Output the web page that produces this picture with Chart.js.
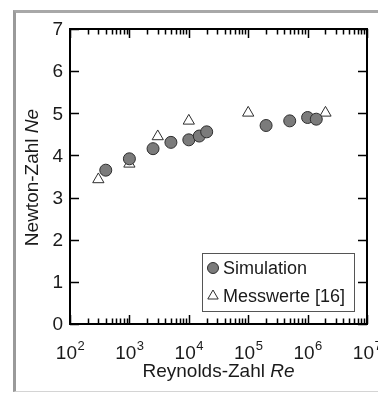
<!DOCTYPE html>
<html>
<head>
<meta charset="utf-8">
<script src="https://cdn.jsdelivr.net/npm/chart.js@4.4.0/dist/chart.umd.min.js"></script>
<style>
body { margin: 0; background: #fff; }
#wrap {
    position: absolute; left: 13px; top: 10px;
    width: 362px; height: 378px;
    border-left: 3px solid #9a9a9a;
    border-top: 3px solid #a8a8a8;
    border-bottom: 1px solid #d4d4d4;
}
canvas { display: block; }
</style>
</head>
<body>
<div id="wrap"><canvas id="chart" width="362" height="378"></canvas></div>
<script>
// Simulation
const simRe = [400, 1000, 2500, 5000, 10000, 15000, 20000, 200000, 500000, 1000000, 1400000];
const simNe = [3.65, 3.92, 4.16, 4.31, 4.37, 4.46, 4.56, 4.71, 4.82, 4.90, 4.86];
// Messwerte [16]
const measRe = [300, 1000, 3000, 10000, 100000, 2000000];
const measNe = [3.43, 3.80, 4.45, 4.82, 5.01, 5.01];

const xTicks = [1e2, 1e3, 1e4, 1e5, 1e6, 1e7];
const yTicks = [0, 1, 2, 3, 4, 5, 6, 7];
const seriesNames = ['Simulation', 'Messwerte [16]'];

const FONT = '"Liberation Sans", Arial, sans-serif';
const INK = '#1a1a1a';

const toPoints = (xs, ys) => xs.map((x, i) => ({ x: x, y: ys[i] }));

// axes box, inward ticks, labels, titles, legend
const frame = {
    id: 'frame',
    afterDatasetsDraw(chart) {
        const ctx = chart.ctx;
        const a = chart.chartArea;
        const xs = chart.scales.x;
        const ys = chart.scales.y;
        ctx.save();
        ctx.strokeStyle = '#000';
        ctx.lineWidth = 1.5;

        // minor + major ticks on x (bottom and top)
        ctx.beginPath();
        for (let d = 0; d < xTicks.length; d++) {
            const base = xTicks[d];
            const px = Math.round(xs.getPixelForValue(base)) + 0.5;
            ctx.moveTo(px, a.bottom); ctx.lineTo(px, a.bottom - 9);
            ctx.moveTo(px, a.top); ctx.lineTo(px, a.top + 9);
            if (d === xTicks.length - 1) break;
            for (let k = 2; k <= 9; k++) {
                const mx = Math.round(xs.getPixelForValue(base * k)) + 0.5;
                ctx.moveTo(mx, a.bottom); ctx.lineTo(mx, a.bottom - 5.5);
                ctx.moveTo(mx, a.top); ctx.lineTo(mx, a.top + 5.5);
            }
        }
        // y ticks left and right
        yTicks.forEach((v) => {
            const py = Math.round(ys.getPixelForValue(v)) + 0.5;
            ctx.moveTo(a.left, py); ctx.lineTo(a.left + 9, py);
            ctx.moveTo(a.right, py); ctx.lineTo(a.right - 9, py);
        });
        ctx.stroke();

        ctx.lineWidth = 2;
        ctx.strokeRect(a.left, a.top, a.right - a.left, a.bottom - a.top);

        // tick labels
        ctx.fillStyle = INK;
        ctx.font = '19px ' + FONT;
        ctx.textAlign = 'right';
        ctx.textBaseline = 'middle';
        yTicks.forEach((v) => {
            ctx.fillText(String(v), a.left - 7, ys.getPixelForValue(v) + 1);
        });

        ctx.textBaseline = 'alphabetic';
        xTicks.forEach((v) => {
            const exp = String(Math.round(Math.log10(v)));
            ctx.font = '19px ' + FONT;
            const w1 = ctx.measureText('10').width;
            ctx.font = '13px ' + FONT;
            const w2 = ctx.measureText(exp).width;
            const left = xs.getPixelForValue(v) - (w1 + w2) / 2;
            ctx.textAlign = 'left';
            ctx.font = '19px ' + FONT;
            ctx.fillText('10', left, a.bottom + 35);
            ctx.font = '13px ' + FONT;
            ctx.fillText(exp, left + w1 + 0.5, a.bottom + 26);
        });

        // axis titles with italic symbols
        const drawTitle = (plain, sym, cx, cy) => {
            ctx.font = '19px ' + FONT;
            const w1 = ctx.measureText(plain).width;
            ctx.font = 'italic 19px ' + FONT;
            const w2 = ctx.measureText(sym).width;
            const left = cx - (w1 + w2) / 2;
            ctx.textAlign = 'left';
            ctx.font = '19px ' + FONT;
            ctx.fillText(plain, left, cy);
            ctx.font = 'italic 19px ' + FONT;
            ctx.fillText(sym, left + w1, cy);
        };
        const midX = (a.left + a.right) / 2;
        const midY = (a.top + a.bottom) / 2;
        drawTitle('Reynolds-Zahl ', 'Re', midX, 364);

        ctx.save();
        ctx.translate(22, midY + 1);
        ctx.rotate(-Math.PI / 2);
        drawTitle('Newton-Zahl ', 'Ne', 0, 0);
        ctx.restore();

        // legend
        const lx = 186, ly = 240, lw = 152, lh = 58;
        ctx.fillStyle = '#fff';
        ctx.fillRect(lx, ly, lw, lh);
        ctx.strokeStyle = '#555';
        ctx.lineWidth = 1;
        ctx.strokeRect(lx + 0.5, ly + 0.5, lw, lh);

        const ds = chart.data.datasets;
        const rows = [ly + 15, ly + 43];
        ds.forEach((d, i) => {
            const cy = rows[i];
            ctx.beginPath();
            ctx.fillStyle = d.backgroundColor;
            ctx.strokeStyle = d.borderColor;
            ctx.lineWidth = 1;
            if (d.pointStyle === 'circle') {
                ctx.arc(lx + 11, cy, 5.5, 0, Math.PI * 2);
                ctx.fill();
            } else {
                const r = 6;
                ctx.moveTo(lx + 11, cy - r);
                ctx.lineTo(lx + 11 + r * Math.sin(2 * Math.PI / 3), cy + r / 2);
                ctx.lineTo(lx + 11 - r * Math.sin(2 * Math.PI / 3), cy + r / 2);
                ctx.closePath();
            }
            ctx.stroke();
            ctx.fillStyle = INK;
            ctx.font = '18px ' + FONT;
            ctx.textAlign = 'left';
            ctx.textBaseline = 'middle';
            ctx.fillText(d.label, lx + 21, cy + 1);
        });
        ctx.restore();
    }
};

new Chart(document.getElementById('chart'), {
    type: 'scatter',
    data: {
        datasets: [
            {
                label: seriesNames[0],
                data: toPoints(simRe, simNe),
                pointStyle: 'circle',
                pointRadius: 6,
                borderWidth: 1,
                backgroundColor: '#7b7b7b',
                borderColor: '#2e2e2e'
            },
            {
                label: seriesNames[1],
                data: toPoints(measRe, measNe),
                pointStyle: 'triangle',
                pointRadius: 6.5,
                borderWidth: 1,
                backgroundColor: 'rgba(255,255,255,0)',
                borderColor: '#2e2e2e'
            }
        ]
    },
    options: {
        responsive: false,
        animation: false,
        layout: { padding: { left: 54, right: 11, top: 16, bottom: 67 } },
        scales: {
            x: { type: 'logarithmic', min: 100, max: 1e7, display: false },
            y: { type: 'linear', min: 0, max: 7, display: false }
        },
        plugins: {
            legend: { display: false },
            tooltip: { enabled: false }
        }
    },
    plugins: [frame]
});
</script>
</body>
</html>
